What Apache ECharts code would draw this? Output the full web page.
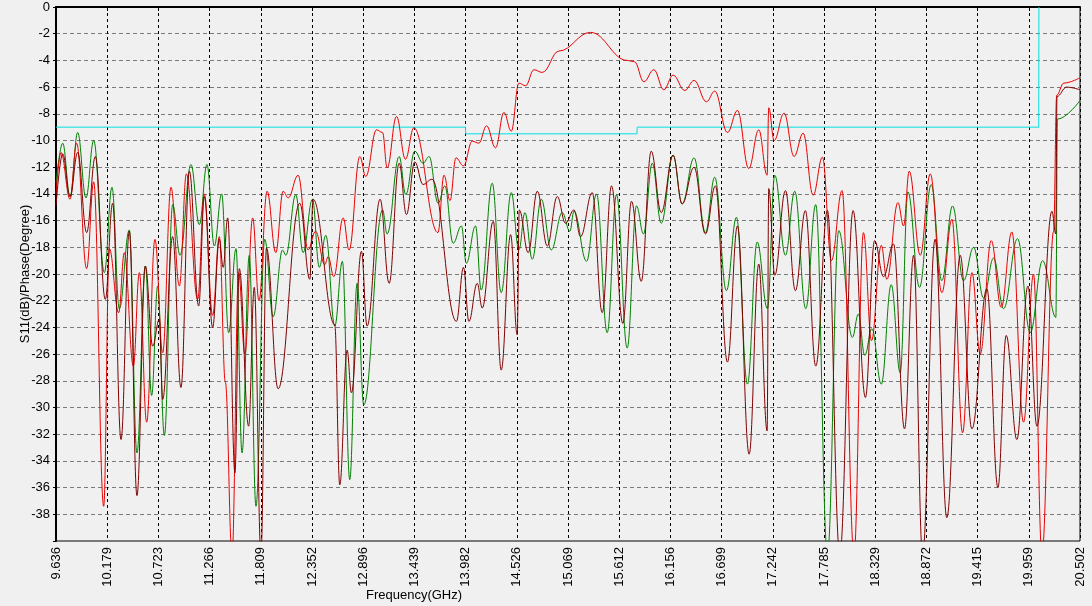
<!DOCTYPE html>
<html>
<head>
<meta charset="utf-8">
<script src="https://cdn.jsdelivr.net/npm/echarts@6/dist/echarts.min.js"></script>
<style>
html, body { margin: 0; padding: 0; background: #f0f0f0; }
#chart { width: 1092px; height: 606px; }
</style>
</head>
<body>
<div id="chart"></div>
<script>
// tick labels of the frequency axis (GHz)
var freqTicks = ['9.636','10.179','10.723','11.266','11.809','12.352','12.896','13.439','13.982','14.526',
                 '15.069','15.612','16.156','16.699','17.242','17.785','18.329','18.872','19.415','19.959','20.502'];
var levelTicks = [0,-2,-4,-6,-8,-10,-12,-14,-16,-18,-20,-22,-24,-26,-28,-30,-32,-34,-36,-38];

// [frequency GHz, dB] (peaks and dips)
var redTrace = [
  [9.636,-14.0],[9.689,-10.9],[9.785,-14.4],[9.855,-10.2],[9.961,-19.6],[10.036,-13.1],[10.142,-37.4],[10.202,-18.1],
  [10.301,-22.9],[10.361,-18.4],[10.457,-26.9],[10.520,-19.9],[10.598,-31.1],[10.686,-17.4],[10.768,-25.9],[10.856,-13.5],
  [10.945,-20.9],[11.020,-12.5],[11.139,-21.9],[11.210,-14.0],[11.298,-23.1],[11.369,-17.2],[11.433,-28.1],[11.504,-41.0],
  [11.574,-19.9],[11.640,-26.0],[11.723,-15.8],[11.790,-22.0],[11.876,-13.8],[11.968,-18.4],[12.046,-13.8],[12.100,-14.3],
  [12.205,-12.6],[12.311,-18.2],[12.390,-16.8],[12.488,-19.3],[12.524,-18.7],[12.584,-20.2],[12.683,-15.8],[12.746,-18.2],
  [12.860,-11.2],[12.923,-12.7],[13.037,-9.2],[13.101,-9.4],[13.150,-12.05],[13.249,-8.2],[13.344,-11.4],[13.433,-9.05],
  [13.689,-16.9],[13.753,-12.6],[13.817,-14.5],[13.880,-11.3],[13.960,-11.9],[14.053,-10.05],[14.123,-10.2],[14.205,-8.9],
  [14.300,-10.55],[14.389,-7.9],[14.467,-9.3],[14.548,-5.7],[14.619,-5.9],[14.707,-4.7],[14.796,-4.9],[14.972,-3.3],
  [15.308,-1.9],[15.697,-4.0],[15.775,-4.1],[15.874,-5.6],[15.980,-4.7],[16.086,-6.2],[16.184,-5.1],[16.308,-6.25],
  [16.407,-5.5],[16.538,-7.1],[16.626,-6.3],[16.761,-9.4],[16.867,-7.75],[16.987,-12.1],[17.093,-9.2],[17.182,-12.6],
  [17.199,-7.55],[17.256,-10.0],[17.362,-7.95],[17.468,-11.2],[17.564,-9.45],[17.670,-14.1],[17.769,-11.25],[17.864,-19.0],
  [17.977,-13.75],[18.104,-41.0],[18.204,-16.9],[18.290,-25.0],[18.393,-17.85],[18.453,-20.4],[18.570,-14.65],[18.630,-16.4],
  [18.690,-12.3],[18.807,-18.6],[18.913,-12.5],[19.036,-21.4],[19.143,-15.9],[19.256,-31.9],[19.355,-19.9],[19.443,-26.0],
  [19.560,-17.5],[19.666,-22.5],[19.779,-16.85],[19.903,-31.1],[20.009,-20.0],[20.098,-41.0],[20.222,-16.8],[20.255,-6.6],
  [20.330,-5.7],[20.502,-5.3]
];
var greenTrace = [
  [9.636,-13.2],[9.707,-10.2],[9.785,-14.2],[9.866,-9.4],[9.954,-14.3],[10.036,-10.0],[10.149,-19.9],[10.230,-13.5],
  [10.308,-22.6],[10.414,-16.7],[10.495,-33.4],[10.584,-19.4],[10.651,-29.1],[10.715,-20.9],[10.786,-32.1],[10.874,-14.8],
  [10.952,-18.6],[11.068,-11.8],[11.157,-16.3],[11.238,-11.8],[11.316,-17.9],[11.394,-14.0],[11.468,-24.4],[11.546,-18.1],
  [11.610,-33.4],[11.687,-18.6],[11.758,-37.4],[11.851,-17.4],[11.940,-23.2],[12.040,-18.2],[12.075,-18.6],[12.180,-14.05],
  [12.258,-18.4],[12.357,-14.4],[12.430,-19.5],[12.499,-17.1],[12.594,-23.9],[12.675,-19.05],[12.753,-35.4],[12.831,-20.7],
  [12.902,-29.8],[13.101,-15.2],[13.150,-17.0],[13.277,-11.2],[13.348,-14.05],[13.443,-10.8],[13.531,-11.7],[13.595,-11.2],
  [13.691,-14.7],[13.762,-13.4],[13.850,-17.7],[13.938,-16.4],[13.990,-19.2],[14.088,-16.4],[14.148,-21.2],[14.265,-13.2],
  [14.360,-21.4],[14.467,-13.9],[14.548,-18.2],[14.612,-15.4],[14.690,-18.9],[14.785,-14.4],[14.891,-18.2],[15.008,-15.4],
  [15.089,-16.8],[15.132,-15.3],[15.266,-19.05],[15.372,-14.0],[15.485,-24.4],[15.584,-14.05],[15.697,-25.55],[15.796,-14.9],
  [15.870,-17.0],[15.963,-11.7],[16.058,-16.2],[16.184,-11.1],[16.280,-14.75],[16.407,-11.3],[16.527,-16.9],[16.626,-12.75],
  [16.750,-21.25],[16.856,-15.75],[16.973,-28.25],[17.076,-17.6],[17.185,-22.6],[17.263,-12.6],[17.376,-18.6],[17.475,-13.8],
  [17.592,-22.6],[17.698,-14.8],[17.822,-41.0],[17.942,-16.75],[18.087,-24.75],[18.150,-23.0],[18.218,-26.1],[18.294,-24.1],
  [18.393,-28.25],[18.499,-20.8],[18.594,-27.4],[18.676,-13.85],[18.799,-21.0],[18.923,-13.3],[19.036,-20.5],[19.150,-14.9],
  [19.266,-20.5],[19.373,-18.0],[19.479,-21.8],[19.585,-18.8],[19.691,-22.6],[19.839,-17.35],[19.974,-24.4],[20.105,-19.0],
  [20.246,-23.25],[20.262,-8.4],[20.502,-7.0]
];
var maroonTrace = [
  [9.636,-14.9],[9.707,-11.0],[9.785,-14.2],[9.866,-10.9],[9.961,-16.9],[10.053,-11.2],[10.159,-21.9],[10.237,-14.7],
  [10.326,-32.4],[10.414,-16.8],[10.495,-36.6],[10.584,-19.4],[10.662,-25.4],[10.732,-23.4],[10.768,-29.4],[10.874,-17.2],
  [10.962,-28.5],[11.051,-12.3],[11.150,-22.4],[11.210,-14.2],[11.298,-24.0],[11.369,-17.4],[11.410,-19.5],[11.458,-15.8],
  [11.535,-34.9],[11.581,-19.6],[11.680,-31.4],[11.740,-21.0],[11.811,-41.0],[11.869,-18.05],[11.993,-28.6],[12.223,-14.7],
  [12.329,-20.4],[12.364,-14.4],[12.594,-23.8],[12.647,-35.8],[12.725,-25.7],[12.771,-28.9],[12.877,-18.3],[12.937,-23.9],
  [13.075,-14.4],[13.171,-20.7],[13.277,-11.7],[13.355,-15.55],[13.443,-11.6],[13.531,-13.3],[13.625,-12.9],[13.885,-23.55],
  [13.960,-19.5],[14.017,-23.55],[14.106,-20.7],[14.159,-22.55],[14.276,-16.05],[14.360,-27.2],[14.460,-17.05],[14.530,-24.55],
  [14.552,-15.2],[14.647,-18.4],[14.743,-13.8],[14.849,-17.9],[14.955,-14.2],[15.043,-16.2],[15.132,-15.2],[15.202,-17.2],
  [15.326,-13.9],[15.432,-22.9],[15.531,-13.4],[15.651,-23.7],[15.743,-14.55],[15.846,-20.55],[15.952,-10.8],[16.058,-15.4],
  [16.184,-11.1],[16.280,-14.75],[16.407,-12.0],[16.527,-17.0],[16.633,-13.4],[16.761,-26.6],[16.867,-16.4],[16.991,-33.5],
  [17.093,-19.25],[17.182,-31.75],[17.199,-13.6],[17.263,-20.1],[17.376,-13.75],[17.482,-21.25],[17.588,-15.25],[17.698,-26.9],
  [17.822,-15.25],[17.953,-41.0],[18.094,-15.25],[18.225,-29.25],[18.322,-17.5],[18.417,-20.2],[18.523,-17.75],[18.640,-31.6],
  [18.736,-18.6],[18.831,-41.0],[18.964,-17.4],[19.089,-38.25],[19.231,-18.6],[19.355,-31.6],[19.514,-21.1],[19.631,-36.0],
  [19.719,-24.6],[19.832,-32.4],[19.949,-20.9],[20.045,-31.4],[20.204,-15.3],[20.245,-17.0],[20.258,-6.7],[20.360,-6.0],
  [20.502,-6.2]
];
var cyanTrace = [
  [9.636,-9.0],[13.982,-9.0],[13.983,-9.5],[15.801,-9.5],[15.803,-9.0],[20.064,-9.0],[20.066,0]
];

var xMin = +freqTicks[0];
var xMax = +freqTicks[freqTicks.length - 1];
var xStep = Math.round((xMax - xMin) / (freqTicks.length - 1) * 1e4) / 1e4;
var txtFont = 'Liberation Sans';

var chart = echarts.init(document.getElementById('chart'));

function trace(data, color, smooth) {
    return {
        type: 'line',
        data: data,
        symbol: 'none',
        smooth: smooth,
        smoothMonotone: 'x',
        lineStyle: { color: color, width: 1 },
        itemStyle: { color: color },
        silent: true,
        animation: false
    };
}

var option = {
    backgroundColor: '#f0f0f0',
    animation: false,
    grid: {
        left: 56, right: 12, top: 7, bottom: 65,
        show: true,
        borderColor: '#000',
        borderWidth: 1,
        backgroundColor: 'transparent'
    },
    xAxis: {
        type: 'value',
        min: xMin,
        max: xMax,
        interval: xStep,
        axisLine: { lineStyle: { color: '#000', width: 2 } },
        axisTick: { show: true, length: 4, lineStyle: { color: '#000' } },
        axisLabel: {
            rotate: 90,
            margin: 6,
            color: '#000',
            fontSize: 13,
            fontFamily: txtFont,
            showMinLabel: true,
            showMaxLabel: true,
            formatter: function (v) {
                var i = Math.round((v - xMin) / xStep);
                return freqTicks[i] || '';
            }
        },
        splitLine: { show: true, lineStyle: { color: '#000', width: 1, type: [3, 3] } }
    },
    yAxis: {
        type: 'value',
        min: -40,
        max: 0,
        interval: 2,
        name: 'S11(dB)/Phase(Degree)',
        nameLocation: 'middle',
        nameGap: 24,
        nameMoveOverlap: false,
        nameTextStyle: { color: '#000', fontSize: 13, fontFamily: txtFont },
        axisLine: { lineStyle: { color: '#000', width: 2 } },
        axisTick: { show: true, length: 3, lineStyle: { color: '#000' } },
        axisLabel: {
            margin: 6,
            color: '#000',
            fontSize: 13,
            fontFamily: txtFont,
            formatter: function (v) {
                return levelTicks.indexOf(v) >= 0 ? String(v) : '';
            }
        },
        splitLine: { show: true, lineStyle: { color: '#7a7a7a', width: 1, type: [4, 3] } }
    },
    graphic: [{
        type: 'text',
        left: 366,
        top: 589,
        style: { text: 'Frequency(GHz)', fill: '#000', font: '13px "Liberation Sans"' }
    }],
    series: [
        trace(cyanTrace, '#00e0e0', false),
        trace(greenTrace, '#008000', 0.4),
        trace(redTrace, '#e80000', 0.4),
        trace(maroonTrace, '#800000', 0.4)
    ]
};
chart.setOption(option);
</script>
</body>
</html>
